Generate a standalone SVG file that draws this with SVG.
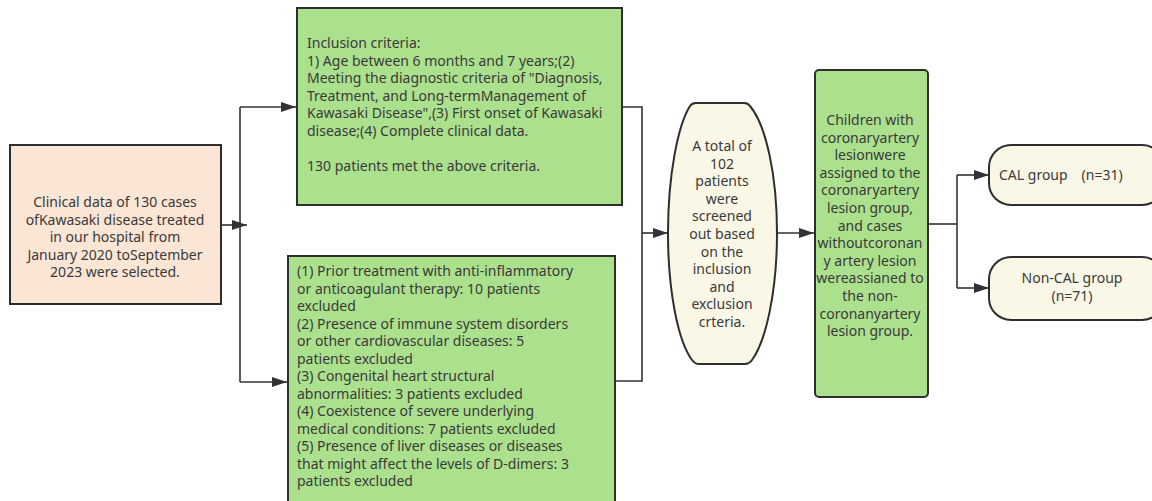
<svg xmlns="http://www.w3.org/2000/svg" width="1152" height="501" viewBox="0 0 1152 501">
<style>
text{font-family:"Noto Sans","Open Sans","Liberation Sans",sans-serif;font-size:14px;fill:#3a3a3a}
.c{text-anchor:middle}
.box{stroke:#2e2e2e;stroke-width:2}
.peach{fill:#fbe5d4}
.green{fill:#abe08d}
.cream{fill:#fbf7e6}
.ln{fill:none;stroke:#333;stroke-width:1.6}
</style>
<defs>
<marker id="ah" markerUnits="userSpaceOnUse" markerWidth="16" markerHeight="12" refX="15" refY="6" orient="auto">
<path d="M0,1 L15,6 L0,11 Z" fill="#333"/>
</marker>
</defs>
<g id="connectors">
<path class="ln" d="M221,225 H247" marker-end="url(#ah)"/>
<path class="ln" d="M240,107 V382"/>
<path class="ln" d="M240,107 H296" marker-end="url(#ah)"/>
<path class="ln" d="M240,382 H287" marker-end="url(#ah)"/>
<path class="ln" d="M622,107 H642 V381 H615"/>
<path class="ln" d="M642,233 H668" marker-end="url(#ah)"/>
<path class="ln" d="M777,233 H814" marker-end="url(#ah)"/>
<path class="ln" d="M928,224 H957"/>
<path class="ln" d="M957,175 V288"/>
<path class="ln" d="M957,175 H989" marker-end="url(#ah)"/>
<path class="ln" d="M957,288 H989" marker-end="url(#ah)"/>
</g>
<g id="source">
<rect class="box peach" x="10" y="145" width="211" height="159"/>
<text class="c" x="115" y="207">Clinical data of 130 cases</text>
<text class="c" x="115" y="224.6">ofKawasaki disease treated</text>
<text class="c" x="115" y="242.2">in our hospital from</text>
<text class="c" x="115" y="259.8">January 2020 toSeptember</text>
<text class="c" x="115" y="277.4">2023 were selected.</text>
</g>
<g id="inclusion">
<rect class="box green" x="297" y="8" width="325" height="197"/>
<text x="307" y="48">Inclusion criteria:</text>
<text x="307" y="65.6">1) Age between 6 months and 7 years;(2)</text>
<text x="307" y="83.2">Meeting the diagnostic criteria of "Diagnosis,</text>
<text x="307" y="100.8">Treatment, and Long-termManagement of</text>
<text x="307" y="118.4">Kawasaki Disease",(3) First onset of Kawasaki</text>
<text x="307" y="136">disease;(4) Complete clinical data.</text>
<text x="307" y="171.2">130 patients met the above criteria.</text>
</g>
<g id="exclusion">
<rect class="box green" x="288" y="256" width="327" height="252"/>
<text x="297" y="276">(1) Prior treatment with anti-inflammatory</text>
<text x="297" y="293.5">or anticoagulant therapy: 10 patients</text>
<text x="297" y="311">excluded</text>
<text x="297" y="328.5">(2) Presence of immune system disorders</text>
<text x="297" y="346">or other cardiovascular diseases: 5</text>
<text x="297" y="363.5">patients excluded</text>
<text x="297" y="381">(3) Congenital heart structural</text>
<text x="297" y="398.5">abnormalities: 3 patients excluded</text>
<text x="297" y="416">(4) Coexistence of severe underlying</text>
<text x="297" y="433.5">medical conditions: 7 patients excluded</text>
<text x="297" y="451">(5) Presence of liver diseases or diseases</text>
<text x="297" y="468.5">that might affect the levels of D-dimers: 3</text>
<text x="297" y="486">patients excluded</text>
</g>
<g id="screened">
<path class="box cream" d="M696,103 H744 Q748,103 750,106 C766,125 777,175 777,233 C777,291 766,341 752,360 Q749,364 745,364 H699 Q695,364 692,360 C678,341 668,291 668,233 C668,175 678,125 690,106 Q692,103 696,103 Z"/>
<text class="c" x="722" y="151">A total of</text>
<text class="c" x="722" y="168.6">102</text>
<text class="c" x="722" y="186.2">patients</text>
<text class="c" x="722" y="203.8">were</text>
<text class="c" x="722" y="221.4">screened</text>
<text class="c" x="722" y="239">out based</text>
<text class="c" x="722" y="256.6">on the</text>
<text class="c" x="722" y="274.2">inclusion</text>
<text class="c" x="722" y="291.8">and</text>
<text class="c" x="722" y="309.4">exclusion</text>
<text class="c" x="722" y="327">crteria.</text>
</g>
<g id="assignment">
<rect class="box green" x="815" y="70" width="113" height="327" rx="4"/>
<text class="c" x="870" y="125">Children with</text>
<text class="c" x="870" y="142.6">coronaryartery</text>
<text class="c" x="870" y="160.2">lesionwere</text>
<text class="c" x="870" y="177.8">assigned to the</text>
<text class="c" x="870" y="195.4">coronaryartery</text>
<text class="c" x="870" y="213">lesion group,</text>
<text class="c" x="870" y="230.6">and cases</text>
<text class="c" x="870" y="248.2">withoutcoronan</text>
<text class="c" x="870" y="265.8">y artery lesion</text>
<text class="c" x="870" y="283.4">wereassianed to</text>
<text class="c" x="870" y="301">the non-</text>
<text class="c" x="870" y="318.6">coronanyartery</text>
<text class="c" x="870" y="336.2">lesion group.</text>
</g>
<g id="cal">
<rect class="box cream" x="989" y="145" width="175" height="60" rx="22"/>
<text x="999" y="180" xml:space="preserve">CAL group　(n=31)</text>
</g>
<g id="noncal">
<rect class="box cream" x="989" y="257" width="175" height="63" rx="22"/>
<text class="c" x="1072" y="283">Non-CAL group</text>
<text class="c" x="1072" y="301">(n=71)</text>
</g>
</svg>
